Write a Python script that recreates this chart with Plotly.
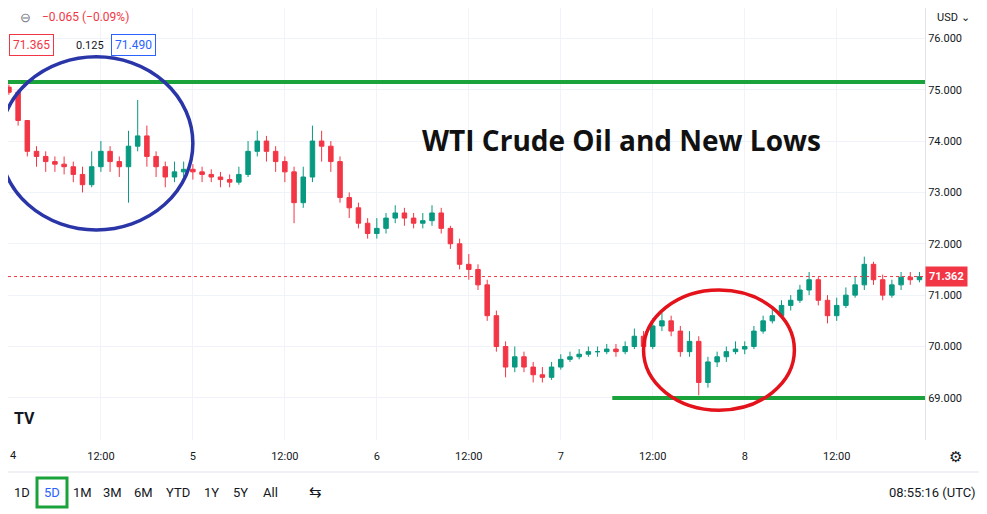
import plotly.graph_objects as go

x_days = [round(4 + 0.05 * i, 2) for i in range(100)]
closes = [74.95,74.4,73.8,73.7,73.6,73.55,73.5,73.35,73.15,73.5,
          73.8,73.6,73.5,73.9,74.1,73.7,73.5,73.3,73.4,73.45,
          73.4,73.35,73.3,73.25,73.2,73.35,73.8,74.0,73.8,73.6,
          73.4,72.8,73.3,74.0,73.9,73.6,72.9,72.7,72.4,72.2,
          72.3,72.5,72.6,72.5,72.4,72.45,72.6,72.3,72.0,71.6,
          71.5,71.2,70.6,70.0,69.6,69.8,69.6,69.45,69.4,69.6,
          69.75,69.8,69.85,69.9,69.9,69.95,69.9,70.0,70.2,70.0,
          70.4,70.5,70.3,69.9,70.1,69.3,69.7,69.8,69.9,69.95,
          70.0,70.3,70.5,70.6,70.8,70.9,71.1,71.3,70.9,70.6,
          70.8,71.0,71.2,71.6,71.3,71.0,71.2,71.35,71.3,71.36]
opens = [75.05] + closes[:-1]
highs = [75.1,75.0,74.4,73.9,73.8,73.7,73.7,73.6,73.5,73.8,
         74.0,73.9,73.7,74.2,74.8,74.3,73.8,73.6,73.6,73.6,
         73.55,73.5,73.45,73.4,73.35,73.5,74.0,74.2,74.1,73.9,
         73.7,73.5,73.5,74.3,74.2,74.0,73.7,73.0,72.8,72.5,
         72.5,72.6,72.75,72.7,72.6,72.6,72.75,72.7,72.35,72.1,
         71.8,71.6,71.3,70.7,70.1,70.0,69.9,69.7,69.6,69.7,
         69.85,69.9,69.95,70.0,70.0,70.05,70.05,70.1,70.35,70.3,
         70.55,70.65,70.6,70.4,70.3,70.2,69.8,69.9,70.0,70.1,
         70.1,70.4,70.6,70.75,70.9,71.0,71.2,71.45,71.35,71.0,
         70.95,71.15,71.35,71.75,71.65,71.4,71.3,71.45,71.45,71.45]
lows = [74.9,74.3,73.7,73.5,73.4,73.4,73.35,73.2,73.0,73.1,
        73.4,73.4,73.3,72.8,73.8,73.5,73.3,73.1,73.2,73.3,
        73.25,73.2,73.2,73.1,73.1,73.15,73.3,73.7,73.6,73.4,
        73.2,72.4,72.7,73.2,73.6,73.4,72.8,72.5,72.3,72.1,
        72.1,72.2,72.4,72.35,72.3,72.3,72.35,72.2,71.9,71.5,
        71.3,71.1,70.5,69.9,69.4,69.5,69.5,69.3,69.3,69.35,
        69.55,69.7,69.75,69.8,69.8,69.85,69.8,69.85,69.95,69.9,
        69.95,70.3,70.2,69.8,69.8,69.05,69.2,69.6,69.7,69.85,
        69.85,69.95,70.25,70.45,70.55,70.7,70.85,71.0,70.8,70.45,
        70.5,70.75,70.95,71.1,71.2,70.9,70.95,71.1,71.2,71.25]

tick_vals = [4.5, 5, 5.5, 6, 6.5, 7, 7.5, 8, 8.5]
tick_text = ["12:00", "5", "12:00", "6", "12:00", "7", "12:00", "8", "12:00"]
first_tick = "4"
y_ticks = [69, 70, 71, 72, 73, 74, 75, 76]
last_price = 71.362
periods = ["1D", "5D", "1M", "3M", "6M", "YTD", "1Y", "5Y", "All"]
period_x = [22, 52, 82, 112, 143, 178, 211, 240, 270]

W, L = 917.0, 8.0
def px(x): return (x - L) / W
def py(y): return (440 - y) / 432.0

shapes = [
    dict(type="line", xref="x", yref="y", x0=3.995, x1=8.98, y0=75.15, y1=75.15,
         line=dict(color="#1aa33a", width=4)),
    dict(type="line", xref="x", yref="y", x0=7.28, x1=8.98, y0=69.0, y1=69.0,
         line=dict(color="#1aa33a", width=4)),
    dict(type="circle", xref="x", yref="y", x0=3.95, x1=5.0, y0=72.27, y1=75.64,
         line=dict(color="#2a35a8", width=3.5)),
    dict(type="circle", xref="x", yref="y", x0=7.45, x1=8.27, y0=68.76, y1=71.1,
         line=dict(color="#e3121b", width=3.5)),
    dict(type="line", xref="paper", yref="y", x0=0, x1=1, y0=last_price, y1=last_price,
         line=dict(color="#f23645", width=1, dash="dot")),
    dict(type="line", xref="paper", yref="paper", x0=0, x1=1.07, y0=py(472), y1=py(472),
         line=dict(color="#e0e3eb", width=1)),
    dict(type="rect", xref="paper", yref="paper", x0=px(37), x1=px(67), y0=py(507), y1=py(478),
         line=dict(color="#1aa33a", width=3)),
]

def ann(text, x, y, xa="center", **kw):
    d = dict(text=text, x=px(x), y=py(y), xref="paper", yref="paper", xanchor=xa,
             yanchor="middle", showarrow=False)
    d.update(kw)
    return d

annotations = [
    ann("<b>WTI Crude Oil and New Lows</b>", 621, 140,
        font=dict(family="Open Sans", size=28, color="#111")),
    dict(text="<b>%.3f</b>" % last_price, x=1.0, y=last_price, xref="paper", yref="y",
         xanchor="left", yanchor="middle", showarrow=False, bgcolor="#f23645",
         font=dict(color="white", size=11), borderpad=3),
    ann("⊖", 25, 17, font=dict(color="#787b86", size=13)),
    ann("−0.065 (−0.09%)", 40, 17, "left", font=dict(color="#f23645", size=12)),
    ann("71.365", 9, 45, "left", font=dict(color="#f23645", size=12), bordercolor="#f23645",
        borderwidth=1, borderpad=3, bgcolor="white"),
    ann("0.125", 74, 45, "left", font=dict(color="#131722", size=11)),
    ann("71.490", 111, 45, "left", font=dict(color="#2962ff", size=12), bordercolor="#2962ff",
        borderwidth=1, borderpad=3, bgcolor="white"),
    ann("USD ⌄", 935, 17, "left", font=dict(color="#131722", size=11)),
    ann(first_tick, 8, 455, "left", font=dict(color="#131722", size=11)),
    ann("<b>TV</b>", 12, 418, "left", font=dict(color="#131722", size=16)),
    ann("⚙", 955, 457, font=dict(color="#131722", size=15)),
    ann("⇆", 315, 492, font=dict(color="#131722", size=15)),
    ann("08:55:16 (UTC)", 978, 492, "right", font=dict(color="#131722", size=13)),
]
for p, xx in zip(periods, period_x):
    annotations.append(ann(p, xx, 492, font=dict(color="#2962ff" if p == "5D" else "#131722", size=13)))

fig = go.Figure(go.Candlestick(
    x=x_days, open=opens, high=highs, low=lows, close=closes,
    increasing=dict(line=dict(color="#089981", width=1), fillcolor="#089981"),
    decreasing=dict(line=dict(color="#f23645", width=1), fillcolor="#f23645"),
    whiskerwidth=0, showlegend=False))

fig.update_layout(
    width=979, height=506, margin=dict(l=0, r=62, t=0, b=74),
    paper_bgcolor="white", plot_bgcolor="white",
    font=dict(family="Roboto", size=11, color="#131722"),
    shapes=shapes, annotations=annotations,
    xaxis=dict(range=[3.995, 8.98], tickvals=tick_vals, ticktext=tick_text,
               rangeslider=dict(visible=False), showgrid=True, gridcolor="#f0f3fa",
               zeroline=False, showline=False, ticks="", ticklabelstandoff=8),
    yaxis=dict(range=[68.18, 76.59], side="right", tickvals=y_ticks,
               ticktext=["%.3f" % v for v in y_ticks], showgrid=True, gridcolor="#f0f3fa",
               zeroline=False, showline=True, linecolor="#e0e3eb", ticks=""),
)
fig.write_html("out.html")
